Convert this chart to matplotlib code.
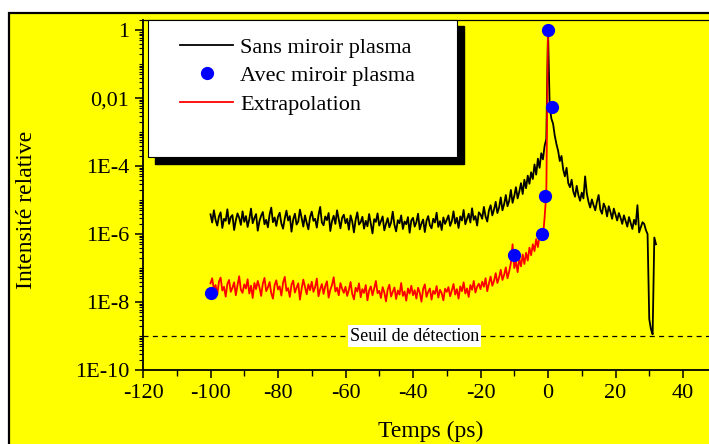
import numpy as np
import matplotlib
matplotlib.use("Agg")
import matplotlib.pyplot as plt
from matplotlib.patches import Rectangle
from matplotlib.ticker import FixedLocator, FixedFormatter, LogLocator, MultipleLocator, NullFormatter

# time grid of the two traces (ps), 0.5 ps step
t_black = np.arange(-100, 32.01, 0.5)
t_red = np.arange(-100, 0.01, 0.5)

# log10 of relative intensity
log_black = [
    -5.42, -5.66, -5.30, -5.58, -5.75, -5.48, -5.36, -5.82, -5.55, -5.61, -5.27, -5.70, -5.50, -5.44, -5.88, -5.60, -5.39, -5.52, -5.73, -5.33,
    -5.64, -5.47, -5.79, -5.56, -5.25, -5.68, -5.53, -5.41, -5.90, -5.62, -5.46, -5.35, -5.71, -5.58, -5.80, -5.43, -5.22, -5.65, -5.51, -5.76,
    -5.49, -5.37, -5.69, -5.84, -5.54, -5.31, -5.60, -5.47, -5.93, -5.57, -5.40, -5.72, -5.63, -5.28, -5.52, -5.78, -5.45, -5.67, -5.86, -5.50,
    -5.34, -5.61, -5.55, -5.81, -5.44, -5.20, -5.66, -5.74, -5.48, -5.59, -5.38, -5.91, -5.62, -5.46, -5.70, -5.30, -5.57, -5.83, -5.52, -5.43,
    -5.68, -5.55, -5.87, -5.45, -5.63, -5.95, -5.58, -5.36, -5.72, -5.65, -5.49, -5.84, -5.61, -5.77, -5.41, -5.70, -5.98, -5.56, -5.64, -5.39,
    -5.75, -5.62, -5.48, -5.89, -5.70, -5.53, -5.80, -5.66, -5.34, -5.73, -5.92, -5.59, -5.68, -5.45, -5.85, -5.63, -5.71, -5.50, -5.96, -5.60,
    -5.52, -5.78, -5.65, -5.40, -5.86, -5.69, -5.57, -5.94, -5.61, -5.47, -5.74, -5.83, -5.55, -5.66, -5.37, -5.79, -5.62, -5.88, -5.51, -5.70,
    -5.58, -5.45, -5.76, -5.62, -5.33, -5.69, -5.52, -5.82, -5.48, -5.60, -5.29, -5.71, -5.55, -5.40, -5.66, -5.24, -5.58, -5.47, -5.75, -5.36,
    -5.42, -5.55, -5.20, -5.48, -5.63, -5.30, -5.15, -5.45, -5.28, -5.05, -5.38, -5.22, -4.92, -5.30, -5.12, -4.85, -5.18, -5.02, -4.70, -5.08,
    -4.88, -4.62, -4.95, -4.75, -4.50, -4.82, -4.40, -4.65, -4.28, -4.52, -4.18, -4.38, -3.95, -4.25, -3.78, -4.05, -3.62, -3.80, -3.40, -3.20,
    0.0,
    -2.25, -2.60, -2.75, -3.10, -3.35, -3.55, -3.85, -3.70, -4.10, -4.30, -4.05, -4.50, -4.62, -4.40, -4.75, -4.90, -4.58, -4.85, -5.02, -4.78,
    -4.95, -4.30, -4.80, -5.05, -5.22, -4.98, -5.15, -5.30, -5.05, -4.85, -5.28, -5.40, -5.10, -5.22, -5.48, -5.18, -5.35, -5.55, -5.25, -5.42,
    -5.60, -5.38, -5.52, -5.70, -5.45, -5.62, -5.78, -5.50, -5.68, -5.85, -5.58, -5.72, -5.15, -5.95, -5.80, -5.65, -5.70, -5.88, -6.00, -8.50,
    -8.80, -8.95, -6.10, -6.30,
]

log_red = [
    -7.45, -7.30, -7.62, -7.50, -7.78, -7.40, -7.28, -7.66, -7.55, -7.84, -7.47, -7.35, -7.70, -7.58, -7.42, -7.80, -7.51, -7.24, -7.64, -7.73,
    -7.48, -7.60, -7.33, -7.75, -7.52, -7.88, -7.44, -7.62, -7.38, -7.56, -7.82, -7.46, -7.29, -7.68, -7.57, -7.41, -7.74, -7.90, -7.50, -7.36,
    -7.63, -7.54, -7.81, -7.43, -7.26, -7.67, -7.59, -7.85, -7.49, -7.37, -7.72, -7.58, -7.45, -7.93, -7.61, -7.34, -7.55, -7.77, -7.48, -7.65,
    -7.40, -7.70, -7.56, -7.31, -7.83, -7.62, -7.47, -7.76, -7.53, -7.39, -7.87, -7.64, -7.50, -7.27, -7.69, -7.58, -7.80, -7.44, -7.61, -7.73,
    -7.55, -7.82, -7.64, -7.41, -7.76, -7.92, -7.58, -7.69, -7.45, -7.86, -7.62, -7.73, -7.50, -7.95, -7.66, -7.54, -7.80, -7.60, -7.38, -7.74,
    -7.67, -7.88, -7.56, -7.72, -7.98, -7.63, -7.49, -7.84, -7.70, -7.57, -7.91, -7.66, -7.78, -7.44, -7.82, -7.69, -7.96, -7.60, -7.75, -7.52,
    -7.80, -7.65, -7.90, -7.58, -7.72, -7.99, -7.62, -7.48, -7.85, -7.70, -7.60, -7.93, -7.67, -7.76, -7.53, -7.87, -7.64, -7.74, -7.95, -7.61,
    -7.70, -7.56, -7.83, -7.66, -7.47, -7.78, -7.62, -7.90, -7.54, -7.68, -7.42, -7.75, -7.60, -7.85, -7.50, -7.64, -7.38, -7.72, -7.55, -7.46,
    -7.62, -7.40, -7.55, -7.30, -7.68, -7.45, -7.25, -7.52, -7.38, -7.15, -7.44, -7.28, -7.05, -7.35, -7.20, -6.98, -7.30, -7.10, -6.85, -6.30,
    -7.00, -6.80, -7.12, -6.72, -6.95, -6.60, -6.88, -6.55, -6.78, -6.40, -6.62, -6.30, -6.50, -6.15, -6.38, -6.05, -5.85, -6.10, -5.50, -4.80,
    0.0,
]

# measured points with the plasma mirror
t_dots = [-100, -10, -1.9, -0.9, 0, 1.1]
i_dots = [1.9e-8, 2.4e-7, 1.0e-6, 1.3e-5, 1.0, 5.5e-3]

threshold = 1e-9
ytick_vals = [1, 1e-2, 1e-4, 1e-6, 1e-8, 1e-10]
ytick_labels = ["1", "0,01", "1E-4", "1E-6", "1E-8", "1E-10"]

plt.rcParams['font.family'] = ['Liberation Serif', 'DejaVu Serif']
plt.rcParams['axes.unicode_minus'] = False

W, H = 709, 444
fig = plt.figure(figsize=(W / 100, H / 100), dpi=100)
fig.patch.set_facecolor('white')

# yellow panel with black border
fig.patches.append(Rectangle((8.5 / W, -0.1), 1.2, (H - 13.5) / H + 0.1,
                             transform=fig.transFigure, facecolor='#ffff00',
                             edgecolor='black', linewidth=1.6, zorder=-5))

x0, x1, y0, y1 = 143, 716.75, 20, 370
ax = fig.add_axes([x0 / W, 1 - y1 / H, (x1 - x0) / W, (y1 - y0) / H])
ax.set_facecolor('#ffff00')

ax.plot(t_black, 10 ** np.array(log_black), color='black', lw=1.3, label='Sans miroir plasma', zorder=3)
ax.plot(t_dots, i_dots, 'o', color='#0000ff', ms=8.5, label='Avec miroir plasma', zorder=5)
ax.plot(t_red, 10 ** np.array(log_red), color='#ff0000', lw=1.3, label='Extrapolation', zorder=4)

ax.axhline(threshold, color='black', lw=0.9, ls=(0, (4, 3.5)), zorder=2)
ax.text(-39.5, threshold, 'Seuil de détection', fontsize=13, ha='center', va='center',
        bbox=dict(facecolor='white', edgecolor='none', pad=1.5), zorder=6)

ax.set_yscale('log')
ax.set_xlim(-120, 50)
ax.set_ylim(1e-10, 2)
ax.yaxis.set_major_locator(FixedLocator(ytick_vals))
ax.yaxis.set_major_formatter(FixedFormatter(ytick_labels))
ax.yaxis.set_minor_locator(LogLocator(base=10, subs=np.arange(1, 10), numticks=30))
ax.yaxis.set_minor_formatter(NullFormatter())
ax.xaxis.set_major_locator(MultipleLocator(20))
ax.xaxis.set_minor_locator(MultipleLocator(10))

ax.tick_params(axis='both', which='major', direction='out', length=6, width=1.1, labelsize=16)
ax.tick_params(axis='y', which='minor', direction='out', length=3, width=0.8)
ax.tick_params(axis='x', which='minor', direction='out', length=4, width=1.0)
ax.tick_params(axis='x', which='major', pad=4)
ax.tick_params(axis='y', which='major', pad=4)

ax.spines['right'].set_visible(False)
ax.spines['left'].set_linewidth(1.3)
ax.spines['bottom'].set_linewidth(1.3)
ax.spines['top'].set_linewidth(0.9)

ax.set_xlabel('Temps (ps)', fontsize=17)
ax.set_ylabel('Intensité relative', fontsize=17)
ax.xaxis.set_label_coords(0.5014, -0.145)
ax.yaxis.set_label_coords(-0.185, 0.458)

# legend box with shadow
bx0, bx1 = (148 - x0) / (x1 - x0), (457 - x0) / (x1 - x0)
by0, by1 = (y1 - 157) / (y1 - y0), 1.0
dx, dy = 6.5 / (x1 - x0), 6.5 / (y1 - y0)
ax.add_patch(Rectangle((bx0 + dx, by0 - dy), bx1 - bx0, by1 - by0, transform=ax.transAxes,
                       facecolor='black', edgecolor='black', zorder=7, clip_on=False))
ax.add_patch(Rectangle((bx0, by0), bx1 - bx0, by1 - by0, transform=ax.transAxes,
                       facecolor='white', edgecolor='black', lw=0.8, zorder=8, clip_on=False))
leg = ax.legend(loc='upper left', bbox_to_anchor=((180 - x0) / (x1 - x0), (y1 - 37) / (y1 - y0)),
                frameon=False, fontsize=16, handlelength=2.4, handletextpad=0.3,
                labelspacing=0.36, borderpad=0, borderaxespad=0, numpoints=1)
leg.set_zorder(9)

fig.savefig('out.png', dpi=100)
